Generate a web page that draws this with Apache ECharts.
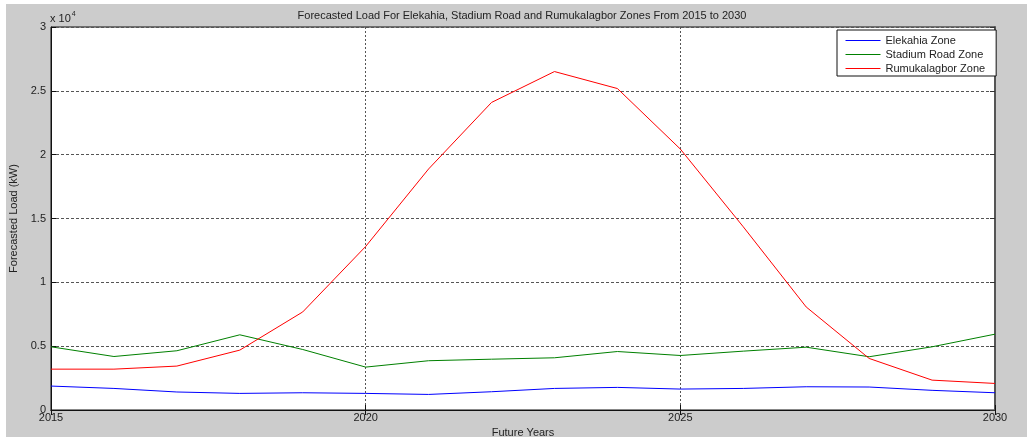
<!DOCTYPE html>
<html>
<head>
<meta charset="utf-8">
<script src="https://cdn.jsdelivr.net/npm/echarts@6/dist/echarts.min.js"></script>
<style>
html,body{margin:0;padding:0;background:#fff;}
#wrap{position:relative;width:1027px;height:437px;overflow:hidden;}
#bg{position:absolute;left:6px;top:4px;width:1021px;height:433px;background:#cccccc;}
#chart{position:absolute;left:0;top:0;width:1027px;height:437px;}
</style>
</head>
<body>
<div id="wrap"><div id="bg"></div><div id="chart"></div></div>
<script>
const years = [2015,2016,2017,2018,2019,2020,2021,2022,2023,2024,2025,2026,2027,2028,2029,2030];
const elekahia = [1875,1690,1410,1300,1350,1300,1220,1430,1690,1770,1640,1690,1820,1800,1540,1350];
const stadiumRoad = [4950,4190,4640,5890,4740,3360,3860,3980,4090,4580,4270,4610,4920,4170,4950,5940];
const rumukalagbor = [3200,3200,3440,4690,7680,12810,18880,24090,26510,25180,20440,14350,8070,4040,2340,2080];
const yTickLabels = ['0','0.5','1','1.5','2','2.5','3'];
const xTickLabels = ['2015','2020','2025','2030'];
const seriesNames = ['Elekahia Zone','Stadium Road Zone','Rumukalagbor Zone'];
const seriesColors = ['#0000ff','#008000','#ff0000'];

const FONT = 'Liberation Sans, Arial, sans-serif';
const pair = arr => years.map((y,i)=>[y,arr[i]]);
const chart = echarts.init(document.getElementById('chart'), null, {renderer:'canvas'});

const gridLine = (type, color) => ({show:true, lineStyle:{color:color, type:type, width:1}});

chart.setOption({
  backgroundColor:'transparent',
  animation:false,
  title:{
    text:'Forecasted Load For Elekahia, Stadium Road and Rumukalagbor Zones From 2015 to 2030',
    left:522, top:10, textAlign:'center', padding:0,
    textStyle:{fontFamily:FONT, fontSize:11, fontWeight:'normal', color:'#222'}
  },
  graphic:[{
    type:'text', left:50, top:11,
    style:{
      text:'{a|x 10}{b|4}',
      rich:{
        a:{fontFamily:FONT, fontSize:11, fill:'#222', verticalAlign:'bottom'},
        b:{fontFamily:FONT, fontSize:7, fill:'#222', verticalAlign:'top', padding:[0,0,6,1]}
      }
    }
  }],
  legend:{
    orient:'vertical', left:837, top:30,
    backgroundColor:'#fff', borderColor:'#111', borderWidth:1,
    padding:[4,11,1,8], itemGap:1, itemWidth:35, itemHeight:10,
    lineStyle:{width:1},
    itemStyle:{opacity:0},
    textStyle:{fontFamily:FONT, fontSize:11, color:'#222', lineHeight:13},
    data:seriesNames.map((n,i)=>({name:n, lineStyle:{color:seriesColors[i], width:1}}))
  },
  grid:{left:51, right:32, top:27, bottom:27, outerBoundsMode:'none', containLabel:false,
    show:true, backgroundColor:'#fff', borderColor:'#111', borderWidth:1},
  xAxis:[{
    type:'value', min:2015, max:2030, interval:5, position:'bottom',
    name:'Future Years', nameLocation:'middle', nameGap:16,
    nameTextStyle:{fontFamily:FONT, fontSize:11, color:'#222'},
    axisLine:{show:true, lineStyle:{color:'#111', width:1}},
    axisTick:{show:true, inside:true, length:5, lineStyle:{color:'#111'}},
    axisLabel:{fontFamily:FONT, fontSize:11, color:'#222', margin:2,
      formatter:v => xTickLabels[Math.round((v-2015)/5)]},
    splitLine:gridLine([2,2],'#555')
  },{
    type:'value', min:2015, max:2030, interval:5, position:'top',
    axisLine:{show:true, lineStyle:{color:'#111', width:1}},
    axisTick:{show:true, inside:true, length:5, lineStyle:{color:'#111'}},
    axisLabel:{show:false}, splitLine:{show:false}
  }],
  yAxis:[{
    type:'value', min:0, max:30000, interval:5000, position:'left',
    name:'Forecasted Load (kW)', nameLocation:'middle', nameGap:27, nameRotate:90,
    nameTextStyle:{fontFamily:FONT, fontSize:11, color:'#222'},
    axisLine:{show:true, lineStyle:{color:'#111', width:1}},
    axisTick:{show:true, inside:true, length:5, lineStyle:{color:'#111'}},
    axisLabel:{fontFamily:FONT, fontSize:11, color:'#222', margin:5,
      formatter:v => yTickLabels[Math.round(v/5000)]},
    splitLine:gridLine([3,2],'#555')
  },{
    type:'value', min:0, max:30000, interval:5000, position:'right',
    axisLine:{show:true, lineStyle:{color:'#555', width:2}},
    axisTick:{show:true, inside:true, length:5, lineStyle:{color:'#333'}},
    axisLabel:{show:false}, splitLine:{show:false}
  }],
  series:seriesNames.map((n,i)=>({
    name:n, type:'line', data:pair([elekahia,stadiumRoad,rumukalagbor][i]),
    showSymbol:false, symbol:'none', color:seriesColors[i],
    itemStyle:{color:seriesColors[i]},
    lineStyle:{width:1, color:seriesColors[i]}
  }))
});
</script>
</body>
</html>
